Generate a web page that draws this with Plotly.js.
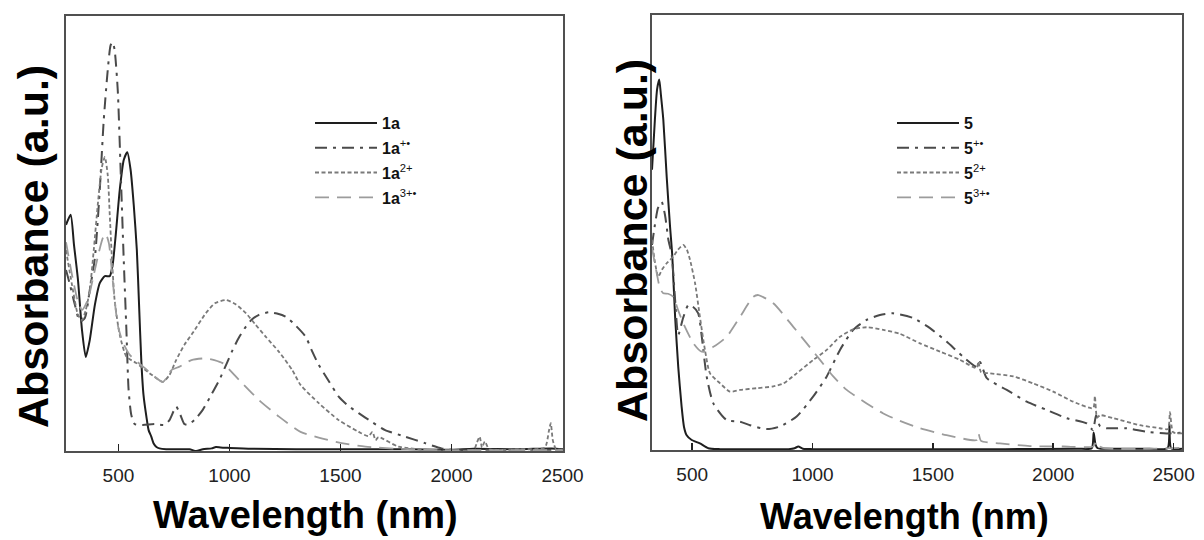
<!DOCTYPE html>
<html>
<head>
<meta charset="utf-8">
<script src="https://cdn.plot.ly/plotly-3.0.1.min.js"></script>
<style>html,body{margin:0;padding:0;background:#fff;}#chart{width:1204px;height:540px;}</style>
</head>
<body>
<div id="chart"></div>
<script>
// ---------- Left panel: 1a series (wavelength nm, absorbance a.u.) ----------
const wl_1a = [264,285,300,318,336,353,371,394,416,439,461,474,488,506,524,540,555,569,583,593,603,613,626,636,648,658,670,685,715,760,820,850,880,920,939,960,1000,1100,1300,1600,1800,2000,2100,2300,2450,2502];
const abs_1a = [0.520,0.543,0.474,0.393,0.278,0.216,0.255,0.336,0.386,0.402,0.402,0.428,0.497,0.600,0.669,0.687,0.646,0.566,0.462,0.336,0.209,0.129,0.079,0.048,0.033,0.018,0.010,0.006,0.004,0.004,0.004,0.000,0.004,0.006,0.009,0.008,0.007,0.005,0.004,0.004,0.004,0.003,0.005,0.004,0.006,0.004];

const wl_1a_rad = [264,282,304,327,349,371,394,416,434,452,465,474,483,497,510,524,536,546,558,573,609,663,708,730,760,779,797,812,842,879,918,954,985,1014,1044,1074,1102,1133,1178,1214,1253,1295,1343,1370,1402,1447,1492,1537,1582,1641,1701,1791,1881,1955,2015,2200,2502];
const abs_1a_rad = [0.416,0.382,0.336,0.297,0.306,0.370,0.444,0.600,0.761,0.876,0.933,0.940,0.922,0.830,0.646,0.439,0.278,0.140,0.083,0.062,0.060,0.062,0.060,0.071,0.102,0.083,0.062,0.060,0.071,0.094,0.129,0.163,0.198,0.232,0.262,0.286,0.303,0.313,0.319,0.316,0.309,0.290,0.263,0.232,0.198,0.161,0.125,0.103,0.087,0.067,0.048,0.033,0.018,0.006,0.002,0.003,0.003];

const wl_1a_di = [264,291,318,336,353,371,389,407,425,439,452,461,470,483,506,536,581,640,700,730,760,797,834,894,936,984,1026,1074,1115,1163,1223,1283,1320,1402,1492,1582,1626,1644,1658,1671,1761,1909,2100,2115,2127,2137,2150,2170,2300,2420,2438,2447,2456,2470,2502];
const abs_1a_di = [0.462,0.382,0.313,0.301,0.324,0.370,0.462,0.566,0.651,0.676,0.634,0.543,0.451,0.347,0.267,0.217,0.202,0.179,0.159,0.175,0.209,0.244,0.271,0.317,0.340,0.347,0.338,0.317,0.292,0.263,0.228,0.186,0.152,0.110,0.071,0.044,0.034,0.044,0.025,0.032,0.010,0.002,0.003,0.020,0.033,0.008,0.022,0.004,0.004,0.008,0.045,0.064,0.025,0.005,0.003];

const wl_1a_tri = [264,291,318,336,362,389,412,430,443,457,470,483,497,519,551,618,700,739,775,829,894,932,969,1044,1133,1223,1320,1402,1505,1612,1761,1940,2200,2502];
const abs_1a_tri = [0.480,0.405,0.343,0.324,0.347,0.405,0.457,0.490,0.499,0.478,0.416,0.347,0.290,0.251,0.221,0.191,0.159,0.186,0.194,0.209,0.213,0.209,0.202,0.163,0.117,0.079,0.044,0.031,0.018,0.010,0.005,0.002,0.002,0.002];

// ---------- Right panel: 5 series ----------
const wl_5 = [333,345,354,363,370,380,394,408,417,429,442,456,466,477,498,532,567,616,700,800,900,925,941,960,1000,1200,1500,1800,2100,2160,2168,2176,2185,2200,2300,2400,2475,2483,2490,2535];
const abs_5 = [0.644,0.759,0.828,0.851,0.816,0.759,0.628,0.513,0.448,0.306,0.191,0.100,0.053,0.034,0.023,0.015,0.004,0.002,0.002,0.002,0.002,0.004,0.008,0.003,0.002,0.002,0.002,0.002,0.003,0.004,0.040,0.012,0.004,0.003,0.003,0.003,0.004,0.060,0.004,0.003];

const wl_5_rad = [333,345,358,373,387,401,415,429,442,462,484,503,525,539,560,588,643,699,740,810,865,934,1003,1059,1114,1169,1225,1280,1335,1419,1488,1557,1626,1682,1696,1724,1807,1890,1973,2056,2139,2165,2178,2194,2222,2305,2388,2471,2535];
const abs_5_rad = [0.471,0.517,0.556,0.570,0.540,0.483,0.448,0.345,0.264,0.303,0.333,0.329,0.314,0.264,0.169,0.107,0.069,0.065,0.057,0.048,0.054,0.077,0.123,0.169,0.230,0.276,0.299,0.310,0.314,0.303,0.280,0.249,0.214,0.191,0.202,0.165,0.138,0.111,0.092,0.073,0.061,0.046,0.080,0.055,0.050,0.050,0.042,0.038,0.040];

const wl_5_di = [333,345,359,374,394,421,441,463,478,491,512,532,553,574,616,657,699,768,837,879,934,1003,1059,1114,1169,1225,1294,1363,1446,1530,1613,1682,1689,1700,1737,1834,1917,2000,2083,2166,2173,2182,2194,2250,2360,2444,2477,2485,2498,2535];
const abs_5_di = [0.483,0.432,0.398,0.414,0.429,0.444,0.460,0.471,0.460,0.437,0.383,0.306,0.230,0.176,0.153,0.134,0.138,0.142,0.146,0.153,0.176,0.207,0.230,0.260,0.277,0.282,0.276,0.267,0.245,0.226,0.207,0.188,0.203,0.179,0.176,0.169,0.153,0.134,0.111,0.096,0.124,0.074,0.080,0.073,0.057,0.050,0.048,0.087,0.041,0.038];

const wl_5_tri = [333,350,366,380,400,421,441,463,505,539,588,643,699,754,775,837,920,976,1031,1086,1142,1225,1294,1363,1446,1557,1682,1689,1700,1779,1903,2042,2166,2180,2200,2535];
const abs_5_tri = [0.464,0.414,0.372,0.360,0.359,0.352,0.322,0.291,0.245,0.226,0.237,0.260,0.306,0.352,0.356,0.337,0.283,0.245,0.207,0.169,0.138,0.107,0.084,0.067,0.050,0.034,0.023,0.039,0.021,0.015,0.009,0.008,0.008,0.020,0.006,0.005];

const tickVals = [500,1000,1500,2000,2500];
const tickText = ['500','1000','1500','2000','2500'];
const names1 = ['<b>1a</b>','<b>1a</b><sup>+•</sup>','<b>1a</b><sup>2+</sup>','<b>1a</b><sup>3+•</sup>'];
const names5 = ['<b>5</b>','<b>5</b><sup>+•</sup>','<b>5</b><sup>2+</sup>','<b>5</b><sup>3+•</sup>'];

const FONT = 'Arial, "Liberation Sans", Helvetica, sans-serif';
const styles = [
  {color:'#1e1e1e', width:2, dash:'solid'},
  {color:'#4a4a4a', width:2, dash:'12px,6px,3px,6px'},
  {color:'#7a7a7a', width:1.8, dash:'4px,2.5px'},
  {color:'#9c9c9c', width:1.8, dash:'14px,8px'}
];

function mk(x, y, i, name, xa, ya, leg, grp) {
  return {
    type:'scatter', mode:'lines', x:x, y:y, name:name,
    xaxis:xa, yaxis:ya, legend:leg, legendgroup:grp,
    line:{color:styles[i].color, width:styles[i].width, dash:styles[i].dash, shape:'spline', smoothing:0.6},
    hoverinfo:'x+y'
  };
}

const data = [
  mk(wl_1a, abs_1a, 0, names1[0], 'x', 'y', 'legend', 'a0'),
  mk(wl_1a_rad, abs_1a_rad, 1, names1[1], 'x', 'y', 'legend', 'a1'),
  mk(wl_1a_di, abs_1a_di, 2, names1[2], 'x', 'y', 'legend', 'a2'),
  mk(wl_1a_tri, abs_1a_tri, 3, names1[3], 'x', 'y', 'legend', 'a3'),
  mk(wl_5, abs_5, 0, names5[0], 'x2', 'y2', 'legend2', 'b0'),
  mk(wl_5_rad, abs_5_rad, 1, names5[1], 'x2', 'y2', 'legend2', 'b1'),
  mk(wl_5_di, abs_5_di, 2, names5[2], 'x2', 'y2', 'legend2', 'b2'),
  mk(wl_5_tri, abs_5_tri, 3, names5[3], 'x2', 'y2', 'legend2', 'b3')
];

const W = 1204, H = 540;
function xaxisDef(dom, rng, anchor) {
  return {
    domain:dom, range:rng, anchor:anchor,
    tickmode:'array', tickvals:tickVals, ticktext:tickText,
    ticks:'inside', ticklen:7, tickwidth:1.5, tickcolor:'#222',
    tickfont:{family:FONT, size:19, color:'#222'}, ticklabelstandoff:6,
    showline:true, mirror:true, linecolor:'#505050', linewidth:2,
    showgrid:false, zeroline:false, fixedrange:true
  };
}
function yaxisDef(dom, anchor) {
  return {
    domain:dom, range:[0,1], anchor:anchor,
    showticklabels:false, ticks:'',
    showline:true, mirror:true, linecolor:'#505050', linewidth:2,
    showgrid:false, zeroline:false, fixedrange:true
  };
}
function legendDef(px, py) {
  return {
    x:px/W, y:1-py/H, xanchor:'left', yanchor:'top',
    bgcolor:'rgba(0,0,0,0)', borderwidth:0,
    font:{family:FONT, size:16, color:'#111'},
    tracegroupgap:1, itemwidth:62
  };
}
function title(text, px, py, size, rot) {
  return {
    text:text, xref:'paper', yref:'paper', x:px/W, y:1-py/H,
    xanchor:'center', yanchor:'middle', showarrow:false, textangle:rot,
    font:{family:FONT, size:size, color:'#000', weight:'bold'}
  };
}

const layout = {
  width:W, height:H, margin:{l:0, r:0, t:0, b:0},
  paper_bgcolor:'#fff', plot_bgcolor:'#fff', showlegend:true,
  xaxis: xaxisDef([66/W, 563/W], [264, 2502], 'y'),
  yaxis: yaxisDef([1-451/H, 1-16/H], 'x'),
  xaxis2: xaxisDef([652/W, 1182/W], [333, 2535], 'y2'),
  yaxis2: yaxisDef([1-450/H, 1-14.7/H], 'x2'),
  legend: legendDef(310, 106),
  legend2: legendDef(892, 106),
  annotations: [
    title('Absorbance (a.u.)', 33, 247, 43, -90),
    title('Absorbance (a.u.)', 632, 241, 43, -90),
    title('Wavelength (nm)', 305, 515, 38, 0),
    title('Wavelength (nm)', 904, 516, 36, 0)
  ]
};

Plotly.newPlot('chart', data, layout, {displayModeBar:false, staticPlot:true});
</script>
</body>
</html>
